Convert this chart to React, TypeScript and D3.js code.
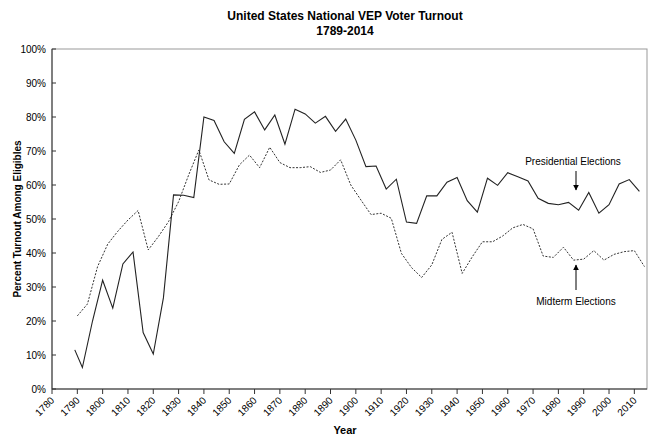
import * as d3 from "d3";

const presYears = [1789,1792,1796,1800,1804,1808,1812,1816,1820,1824,1828,1832,1836,1840,1844,1848,1852,1856,1860,1864,1868,1872,1876,1880,1884,1888,1892,1896,1900,1904,1908,1912,1916,1920,1924,1928,1932,1936,1940,1944,1948,1952,1956,1960,1964,1968,1972,1976,1980,1984,1988,1992,1996,2000,2004,2008,2012];
const presValues = [11.5,6.3,20,32,23.8,36.8,40.3,16.6,10.3,26.8,57.1,57,56.3,80,79,72.7,69.3,79.3,81.5,76.2,80.6,72,82.3,80.9,78.2,80.2,75.8,79.4,73.2,65.4,65.6,58.8,61.7,49.1,48.7,56.8,56.8,60.8,62.2,55.4,52,62,59.9,63.6,62.4,61.2,56.1,54.6,54.2,54.9,52.6,57.8,51.7,54.2,60.3,61.6,58.1];
const midYears = [1790,1794,1798,1802,1806,1810,1814,1818,1822,1826,1830,1834,1838,1842,1846,1850,1854,1858,1862,1866,1870,1874,1878,1882,1886,1890,1894,1898,1902,1906,1910,1914,1918,1922,1926,1930,1934,1938,1942,1946,1950,1954,1958,1962,1966,1970,1974,1978,1982,1986,1990,1994,1998,2002,2006,2010,2014];
const midValues = [21.5,25,36,42.6,46.4,49.7,52.5,40.9,44.8,49.2,55.1,63,70.3,61.5,60.2,60.3,65.9,68.8,65.1,71.1,66.6,65.1,65.1,65.4,63.7,64.4,67.4,60,55.6,51.3,51.7,50.2,39.9,35.7,32.8,36.5,44,46.1,34,38.9,43.3,43.3,45,47.4,48.4,47.1,39.1,38.7,41.7,37.9,38.2,40.7,37.9,39.6,40.4,40.7,36];
const xTicks = d3.range(1780, 2011, 10);
const yTicks = d3.range(0, 101, 10);

export default function App() {
  const W = 670, H = 445;
  const L = 52, T = 49, R = 647, B = 389;
  const x = d3.scaleLinear().domain([1780, 2015]).range([L, R]);
  const y = d3.scaleLinear().domain([0, 100]).range([B, T]);
  const pres = d3.line<number>().x((_, i) => x(presYears[i])).y((d) => y(d))(presValues)!;
  const mid = d3.line<number>().x((_, i) => x(midYears[i])).y((d) => y(d))(midValues)!;
  const font = "Arial, 'Liberation Sans', sans-serif";
  const ax = 576;
  return (
    <svg width={W} height={H} style={{ position: "absolute", left: 0, top: 0, background: "#fff" }} fontFamily={font}>
      <text x={345} y={20} textAnchor="middle" fontSize={12} fontWeight="bold">United States National VEP Voter Turnout</text>
      <text x={345} y={35} textAnchor="middle" fontSize={12} fontWeight="bold">1789-2014</text>
      <rect x={L} y={T} width={R - L} height={B - T} fill="none" stroke="#999" />
      <line x1={L} x2={L} y1={T} y2={B} stroke="#333" />
      <line x1={L} x2={R} y1={B} y2={B} stroke="#333" />
      {yTicks.map((t) => (
        <g key={t}>
          <line x1={L} x2={L + 4} y1={y(t)} y2={y(t)} stroke="#333" />
          <text x={L - 6} y={y(t) + 3.5} textAnchor="end" fontSize={10}>{t}%</text>
        </g>
      ))}
      {xTicks.map((t) => (
        <g key={t}>
          <line x1={x(t)} x2={x(t)} y1={B} y2={B + 5} stroke="#333" />
          <text transform={`translate(${x(t) + 3},${B + 12}) rotate(-45)`} textAnchor="end" fontSize={10}>{t}</text>
        </g>
      ))}
      <text x={345} y={434} textAnchor="middle" fontSize={11} fontWeight="bold">Year</text>
      <text transform={`translate(21,${(T + B) / 2}) rotate(-90)`} textAnchor="middle" fontSize={10} fontWeight="bold">Percent Turnout Among Eligibles</text>
      <path d={mid} fill="none" stroke="#333" strokeWidth={1} strokeDasharray="2,1.5" />
      <path d={pres} fill="none" stroke="#222" strokeWidth={1.1} />
      <defs>
        <marker id="ah" viewBox="0 0 10 10" refX={9} refY={5} markerWidth={6} markerHeight={6} orient="auto">
          <path d="M0,0L10,5L0,10z" fill="#000" />
        </marker>
      </defs>
      <text x={573} y={165} textAnchor="middle" fontSize={10}>Presidential Elections</text>
      <line x1={ax} x2={ax} y1={171} y2={190} stroke="#000" markerEnd="url(#ah)" />
      <text x={576} y={305} textAnchor="middle" fontSize={10}>Midterm Elections</text>
      <line x1={ax} x2={ax} y1={290} y2={265} stroke="#000" markerEnd="url(#ah)" />
    </svg>
  );
}
